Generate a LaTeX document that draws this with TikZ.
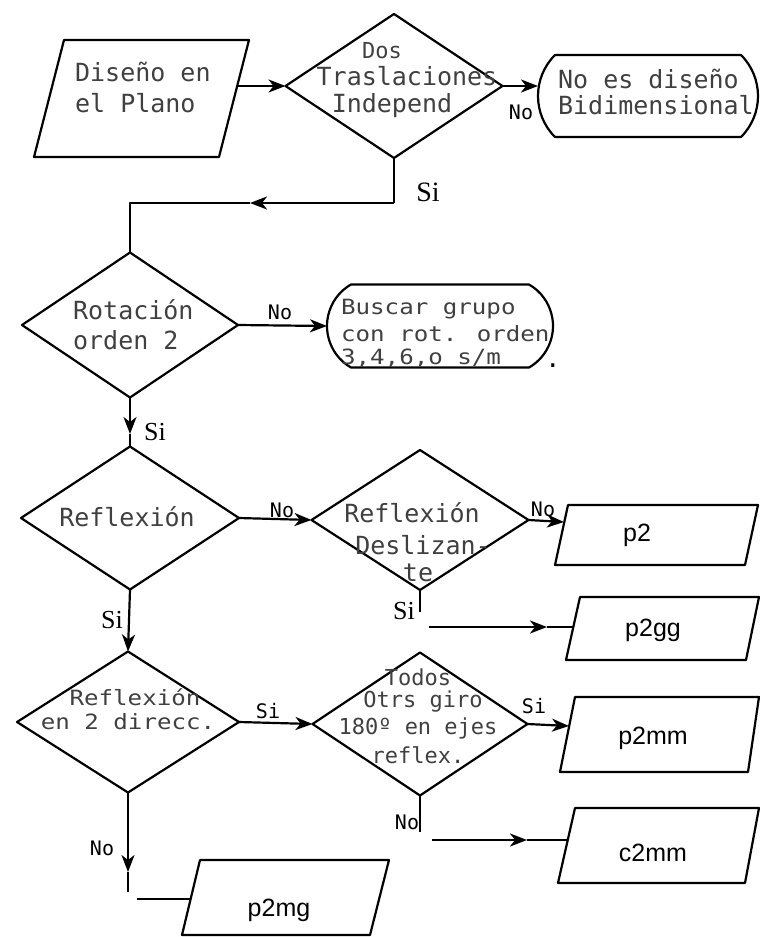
\documentclass[tikz,border=0pt]{standalone}
\usepackage{fontspec}
\newfontfamily\monof{DejaVu Sans Mono}
\newfontfamily\monow[FakeStretch=1.15]{DejaVu Sans Mono}
\newfontfamily\osans{Liberation Sans}
\newfontfamily\oserif{Liberation Serif}
\usetikzlibrary{shapes.geometric,shapes.misc,arrows.meta}
\begin{document}
\begin{tikzpicture}[x=1pt,y=-1pt,
  line width=2.2pt, line join=round,
  dia/.style={draw, diamond, inner sep=0pt, outer sep=0pt},
  term/.style={draw, rounded rectangle, inner sep=0pt, outer sep=0pt},
  dtxt/.style={font=\monof\fontsize{25}{25}\selectfont, text=black!75, inner sep=0pt},
  stxt/.style={font=\monof\fontsize{22}{22}\selectfont, text=black!75, inner sep=0pt},
  wtxt/.style={font=\monow\fontsize{21}{21}\selectfont, text=black!75, inner sep=0pt},
  otxt/.style={font=\osans\fontsize{25}{25}\selectfont, inner sep=0pt},
  lbl/.style={font=\monof\fontsize{20}{20}\selectfont, inner sep=0pt},
  slbl/.style={font=\oserif\fontsize{26}{26}\selectfont, inner sep=0pt},
  arr/.style={-{Stealth[length=17pt,width=13pt,inset=5pt]}},
  ]
\useasboundingbox (0,0) rectangle (760,937);
\fill[white] (0,0) rectangle (760,937);

% ---------- start parallelogram ----------
\coordinate (p0tl) at (64,40);  \coordinate (p0tr) at (249,40);
\coordinate (p0br) at (219,157);\coordinate (p0bl) at (34,157);
\draw (p0tl) -- (p0tr) -- (p0br) -- (p0bl) -- cycle;
\coordinate (p0r) at (237,86);
\node[dtxt, anchor=west] (t0a) at (74,72) {Diseño en};
\node[dtxt, anchor=west] (t0b) at (74,103) {el Plano};

% ---------- diamonds ----------
\node[dia, minimum width=217pt, minimum height=144pt] (d1) at (394,86) {};
\node[stxt] (d1a) at (382,51) {Dos};
\node[dtxt] (d1b) at (407,76) {Traslaciones};
\node[dtxt] (d1c) at (392,106) {Independ};

\node[dia, minimum width=216pt, minimum height=145pt] (d2) at (130,325) {};
\node[dtxt, anchor=west] (d2a) at (72,310) {Rotación};
\node[dtxt, anchor=west] (d2b) at (72,340) {orden 2};

\node[dia, minimum width=218pt, minimum height=143pt] (d3) at (130,518) {};
\node[dtxt] (d3a) at (127,517) {Reflexión};

\node[dia, minimum width=217pt, minimum height=140pt] (d4) at (420,520) {};
\node[dtxt] (d4a) at (412,513) {Reflexión};
\node[dtxt] (d4b) at (423,545) {Deslizan-};
\node[dtxt] (d4c) at (418,573) {te};

\node[dia, minimum width=222pt, minimum height=141pt] (d5) at (128,722) {};
\node[wtxt] (d5a) at (135,697) {Reflexión};
\node[wtxt] (d5b) at (128,722) {en 2 direcc.};

\node[dia, minimum width=215pt, minimum height=143pt] (d6) at (420,724) {};
\node[stxt] (d6a) at (418,677) {Todos};
\node[stxt] (d6b) at (423,701) {Otrs giro};
\node[stxt] (d6c) at (418,728) {180º en ejes};
\node[stxt] (d6d) at (418,755) {reflex.};

% ---------- terminals ----------
\node[term, rounded rectangle arc length=90, minimum width=220pt, minimum height=82pt] (t1) at (648,96) {};
\node[dtxt, anchor=west] (t1a) at (557,79) {No es diseño};
\node[dtxt, anchor=west] (t1b) at (557,105) {Bidimensional};

\node[term, rounded rectangle arc length=120, minimum width=226pt, minimum height=83pt] (t2) at (440,326) {};
\node[wtxt, anchor=west] (t2a) at (340,309) {Buscar grupo};
\node[wtxt, anchor=west] (t2b) at (340,334) {con rot. orden};
\node[wtxt, anchor=west] (t2c) at (340,358) {3,4,6,o s/m};
\node[dtxt, text=black] (t2d) at (553,366) {.};

% ---------- output parallelograms ----------
\coordinate (q1tl) at (568,505); \coordinate (q1tr) at (758,505);
\coordinate (q1br) at (745,565); \coordinate (q1bl) at (555,565);
\draw (q1tl) -- (q1tr) -- (q1br) -- (q1bl) -- cycle;
\coordinate (q1l) at (564,522);
\node[otxt] (o1) at (637,535) {p2};

\coordinate (q2tl) at (580,597); \coordinate (q2tr) at (759,597);
\coordinate (q2br) at (746,660); \coordinate (q2bl) at (566,660);
\draw (q2tl) -- (q2tr) -- (q2br) -- (q2bl) -- cycle;
\coordinate (q2l) at (573,627);
\node[otxt] (o2) at (653,630) {p2gg};

\coordinate (q3tl) at (575,697); \coordinate (q3tr) at (759,697);
\coordinate (q3br) at (748,772); \coordinate (q3bl) at (560,772);
\draw (q3tl) -- (q3tr) -- (q3br) -- (q3bl) -- cycle;
\coordinate (q3l) at (569,726);
\node[otxt] (o3) at (653,738) {p2mm};

\coordinate (q4tl) at (575,808); \coordinate (q4tr) at (759,808);
\coordinate (q4br) at (745,883); \coordinate (q4bl) at (558,883);
\draw (q4tl) -- (q4tr) -- (q4br) -- (q4bl) -- cycle;
\coordinate (q4l) at (568,840);
\node[otxt] (o4) at (653,853) {c2mm};

\coordinate (q5tl) at (200,860); \coordinate (q5tr) at (389,860);
\coordinate (q5br) at (370,935); \coordinate (q5bl) at (182,935);
\draw (q5tl) -- (q5tr) -- (q5br) -- (q5bl) -- cycle;
\coordinate (q5l) at (191,899);
\node[otxt] (o5) at (279,910) {p2mg};

% ---------- connectors ----------
\draw[arr] (p0r) -- (d1.west);
\draw[arr] (d1.east) -- (d1.east -| t1.west);
\node[lbl] (l1) at (521,112) {No};

\coordinate (c1) at (d1.south |- 0,203);
\coordinate (m1) at (250,203);
\coordinate (c2) at (d2.north |- 0,203);
\draw (d1.south) -- (c1);
\draw[arr] (c1) -- (m1);
\draw (m1) -- (c2) -- (d2.north);
\node[slbl, font=\oserif\fontsize{28}{28}\selectfont] (l2) at (428,192) {Si};

\draw[arr] (d2.east) -- (t2.west);
\node[lbl] (l3) at (280,312) {No};

\coordinate (m2) at (130,434);
\draw[arr] (d2.south) -- (m2);
\draw (m2) -- (d3.north);
\node[slbl] (l4) at (155,432) {Si};

\draw[arr] (d3.east) -- (d4.west);
\node[lbl] (l5) at (282,510) {No};

\draw[arr] (d4.east) -- (q1l);
\node[lbl] (l6) at (543,509) {No};

\coordinate (s4) at (420,612);
\draw (d4.south) -- (s4);
\node[slbl] (l7) at (404,611) {Si};
\coordinate (a4) at (429,627);
\coordinate (m4) at (547,627);
\draw[arr] (a4) -- (m4);
\draw (m4) -- (q2l);

\draw[arr] (d3.south) -- (d5.north);
\node[slbl] (l8) at (112,620) {Si};

\draw[arr] (d5.east) -- (d6.west);
\node[lbl] (l9) at (268,711) {Si};

\draw[arr] (d6.east) -- (q3l);
\node[lbl] (l10) at (534,706) {Si};

\coordinate (s6) at (420,832);
\draw (d6.south) -- (s6);
\node[lbl] (l11) at (407,822) {No};
\coordinate (a6) at (432,840);
\coordinate (m6) at (527,840);
\draw[arr] (a6) -- (m6);
\draw (m6) -- (q4l);

\coordinate (m5) at (128,872);
\coordinate (e5) at (128,892);
\draw[arr] (d5.south) -- (m5);
\draw (m5) -- (e5);
\node[lbl] (l12) at (102,848) {No};
\coordinate (b5) at (137,899);
\draw (b5) -- (q5l);
\end{tikzpicture}
\end{document}
